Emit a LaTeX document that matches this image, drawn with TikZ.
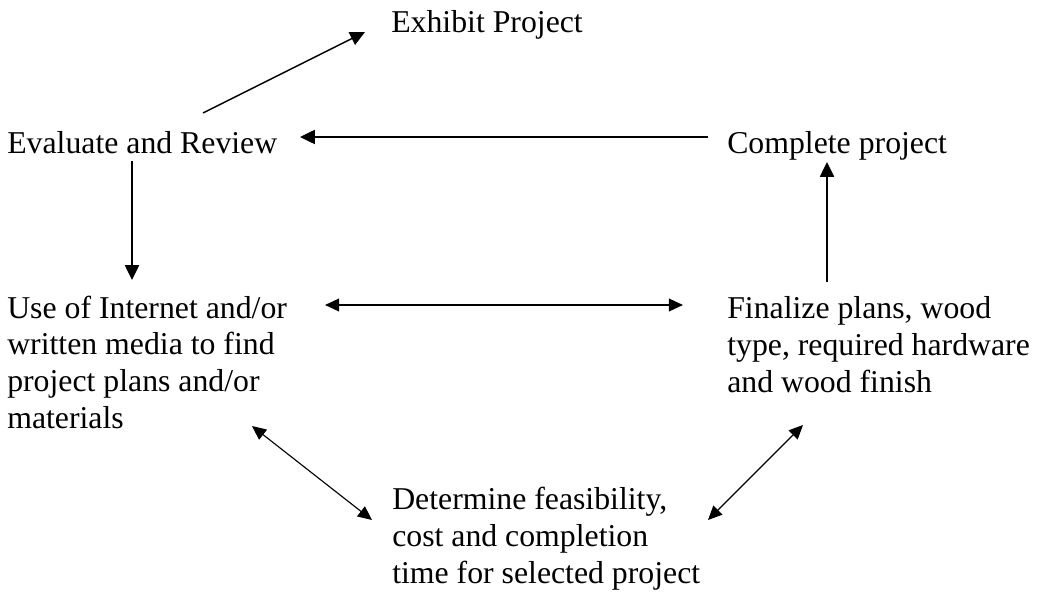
\documentclass[tikz,border=0pt]{standalone}
\usepackage{fontspec}
\setmainfont{Liberation Serif}
\usetikzlibrary{arrows.meta}
\tikzset{txt/.style={anchor=base west,inner sep=0pt,align=left,font=\fontsize{22.6pt}{26pt}\selectfont},
  arr/.style={line width=1.1pt,-{Triangle[length=10.5pt,width=10pt]}},
  dbl/.style={line width=0.8pt,{Triangle[length=10pt,width=9pt]}-{Triangle[length=10pt,width=9pt]}}}
\begin{document}
\begin{tikzpicture}
  \useasboundingbox (0,0) rectangle (25.925,14.825);
  \node[txt] (exhibit) at (9.775,14) {Exhibit Project};
  \node[txt] (eval) at (0.175,11) {Evaluate and Review}; \node[txt] (complete) at (18.175,11) {Complete project};
  \node[txt] (use) at (0.175,4.125) {Use of Internet and/or\\written media to find\\project plans and/or\\materials};
  \node[txt] (final) at (18.175,5.025) {Finalize plans, wood\\type, required hardware\\and wood finish};
  \node[txt] (determ) at (9.8,0.25) {Determine feasibility,\\cost and completion\\time for selected project};
  \draw[arr] ([shift={(4.9,1)}]eval.base west) -- ([shift={(-0.65,0.025)}]exhibit.base west);
  \draw[arr] ([shift={(-0.475,0.4)}]complete.base west) -- ([shift={(7.325,0.4)}]eval.base west);
  \draw[arr] ([shift={(3.125,-0.2)}]eval.base west) -- ([shift={(3.125,3.7)}]use.base west);
  \draw[arr] ([shift={(2.5,2.75)}]final.base west) -- ([shift={(2.5,-0.225)}]complete.base west);
  \draw[dbl,line width=1.1pt] ([shift={(7.95,3.075)}]use.base west) -- ([shift={(-1.1,2.175)}]final.base west);
  \draw[dbl] ([shift={(6.125,0.05)}]use.base west) -- ([shift={(-0.5,1.575)}]determ.base west);
  \draw[dbl] ([shift={(7.9,1.575)}]determ.base west) -- ([shift={(1.9,-0.825)}]final.base west);
\end{tikzpicture}
\end{document}
